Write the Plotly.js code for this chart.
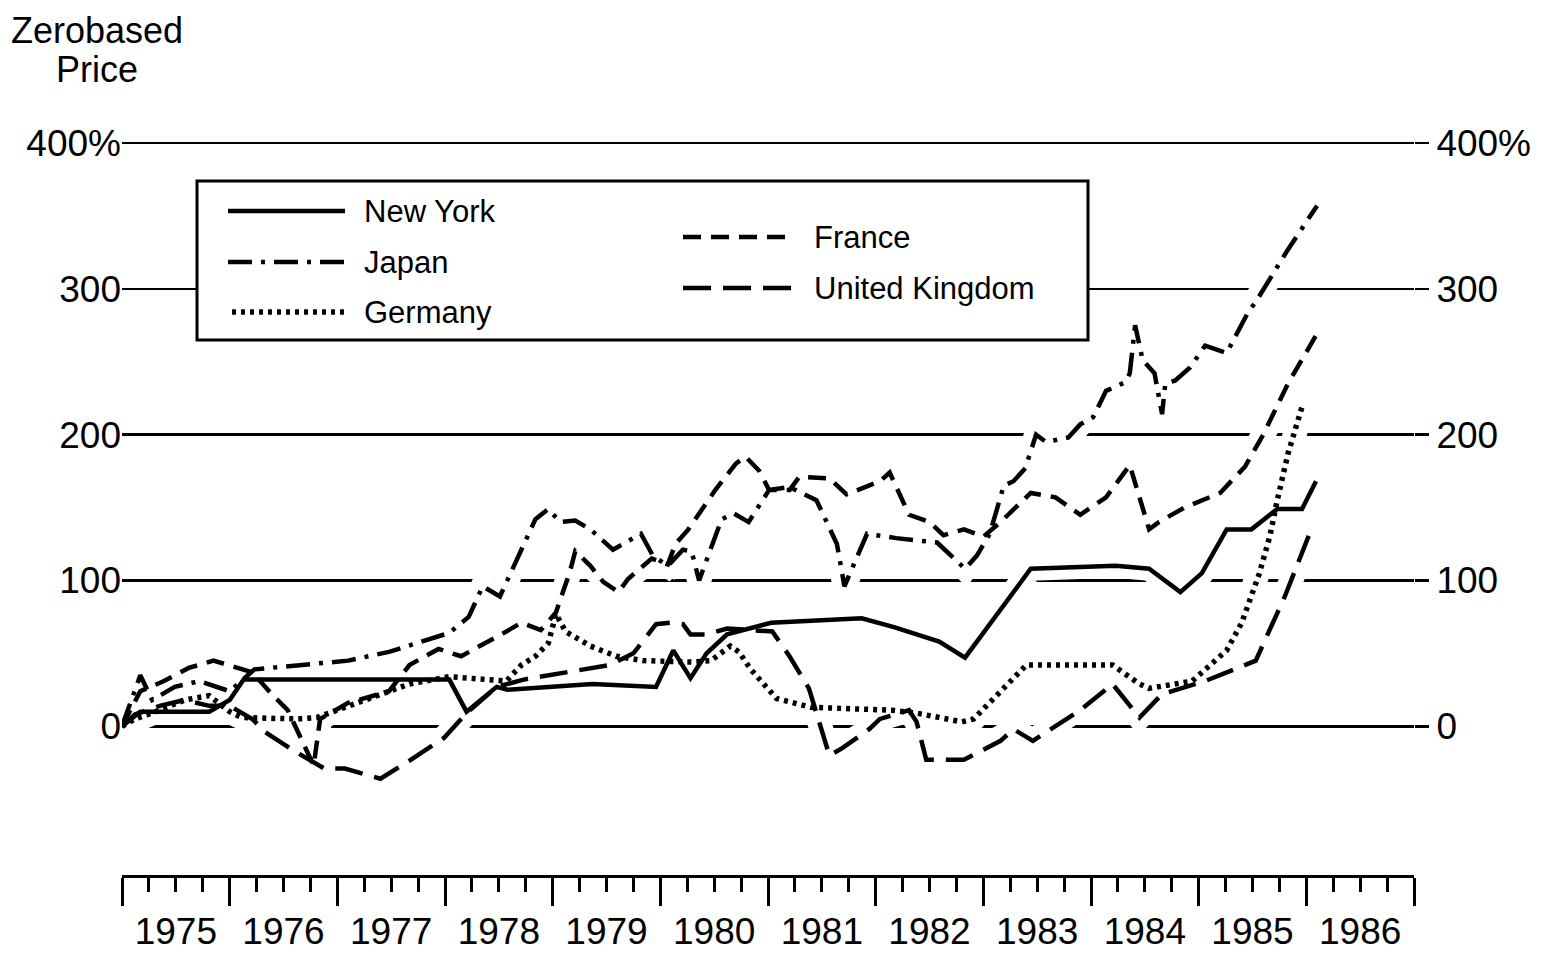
<!DOCTYPE html>
<html><head><meta charset="utf-8">
<script src="https://cdn.plot.ly/plotly-3.0.1.min.js"></script>
<style>html,body{margin:0;padding:0;background:#fff}#chart{width:1544px;height:956px}</style>
</head><body><div id="chart"></div>
<script>
const seriesNames = ['New York', 'Japan', 'Germany', 'France', 'United Kingdom'];

const nyYear = [1975.00,1975.17,1975.49,1975.81,1976.00,1976.13,1978.04,1978.20,1978.48,1978.58,1979.37,1979.96,1980.12,1980.28,1980.43,1980.62,1981.03,1981.87,1982.17,1982.59,1982.83,1983.44,1984.23,1984.54,1984.83,1985.03,1985.26,1985.49,1985.73,1985.96,1986.09];
const nyValue = [0,10,10,10,18,32,32,10,27,25,29,27,52,33,50,63,71,74,68,58,47,108,110,108,92,105,135,135,149,149,168];

const japanYear = [1975.00,1975.17,1975.28,1975.49,1975.72,1976.00,1976.23,1976.73,1977.10,1977.48,
  1977.80,1978.04,1978.22,1978.35,1978.51,1978.71,1978.84,1978.96,1979.07,1979.21,
  1979.35,1979.56,1979.82,1979.93,1980.07,1980.21,1980.29,1980.36,1980.51,1980.57,
  1980.68,1980.82,1981.01,1981.20,1981.45,1981.64,1981.71,1981.92,1982.19,1982.57,
  1982.83,1982.94,1983.06,1983.19,1983.28,1983.39,1983.49,1983.58,1983.79,1983.90,
  1984.02,1984.14,1984.32,1984.36,1984.41,1984.48,1984.59,1984.66,1984.69,1984.78,
  1984.92,1985.06,1985.26,1985.46,1985.53,1985.83,1986.10];
const japanValue = [0,35,18,27,31,24,39,42,45,51,
  58,64,75,96,89,121,142,149,140,141,
  135,121,132,117,110,121,120,100,130,142,
  146,140,162,164,155,125,96,132,129,126,
  108,117,132,165,168,177,200,195,198,207,
  212,230,236,242,275,251,242,214,235,237,
  246,261,256,284,291,327,357];

const germanyYear = [1975.00,1975.12,1975.35,1975.58,1975.81,1976.00,1976.11,1976.63,1976.81,1977.10,
  1977.67,1978.04,1978.57,1978.71,1978.84,1978.96,1979.03,1979.12,1979.35,1979.59,
  1979.84,1980.31,1980.47,1980.65,1980.73,1980.84,1981.08,1981.40,1982.15,1982.38,
  1982.80,1982.91,1983.40,1984.20,1984.45,1984.54,1984.94,1985.26,1985.40,1985.56,
  1985.66,1985.73,1985.83,1985.96];
const germanyValue = [0,5,11,18,21,10,6,5,6,14,
  29,34,31,42,48,57,77,65,55,48,
  45,44,45,55,51,39,19,13,11,9,
  3,5,42,42,29,26,31,52,71,104,
  130,155,187,219];

const franceYear = [1975.00,1975.17,1975.39,1975.62,1975.85,1976.10,1976.21,1976.39,1976.54,1976.78,
  1976.84,1977.10,1977.48,1977.67,1977.94,1978.15,1978.33,1978.57,1978.71,1978.89,
  1979.03,1979.16,1979.21,1979.35,1979.47,1979.61,1979.70,1979.92,1980.07,1980.14,
  1980.26,1980.51,1980.70,1980.79,1980.92,1981.01,1981.20,1981.29,1981.57,1981.73,
  1982.04,1982.13,1982.31,1982.50,1982.63,1982.82,1983.00,1983.16,1983.44,1983.67,
  1983.90,1984.14,1984.36,1984.54,1984.63,1984.87,1985.20,1985.43,1985.60,1985.83,
  1986.09];
const franceValue = [0,24,31,40,45,40,37,22,11,-27,
  5,16,24,42,53,48,55,65,71,66,
  78,106,120,110,99,92,101,115,111,125,
  135,162,180,185,175,162,162,171,170,159,
  168,174,145,140,131,135,130,140,160,157,
  145,157,179,135,140,150,160,178,200,235,
  268];

const ukYear = [1975.00,1975.12,1975.35,1975.58,1975.81,1976.00,1976.21,1976.33,1976.60,1976.88,
  1977.07,1977.40,1977.64,1977.99,1978.20,1978.48,1978.73,1979.53,1979.75,1979.96,
  1980.10,1980.21,1980.28,1980.43,1980.62,1980.96,1981.04,1981.20,1981.38,1981.57,
  1981.69,1981.94,1982.04,1982.31,1982.38,1982.47,1982.82,1983.16,1983.28,1983.46,
  1983.90,1984.20,1984.45,1984.66,1985.06,1985.53,1985.80,1986.03];
const ukValue = [0,8,14,18,14,14,5,-4,-17,-29,
  -29,-36,-25,-8,9,27,32,42,50,70,
  71,70,63,63,67,65,65,48,26,-20,
  -15,-2,5,11,3,-23,-23,-10,-2,-10,
  11,29,6,22,31,45,89,132];

const yTickValues = [0, 100, 200, 300, 400];
const yTickLabels = ['0', '100', '200', '300', '400%'];
const yearTicks = [1975,1976,1977,1978,1979,1980,1981,1982,1983,1984,1985,1986,1987];
const yearLabels = ['1975','1976','1977','1978','1979','1980','1981','1982','1983','1984','1985','1986'];
const yTitleLines = ['Zerobased', 'Price'];

const INK = '#000000';
const FONT = 'Liberation Sans, Arial, Helvetica, sans-serif';
const xRange = [1975, 1987];
const yRange = [-102, 402];

const seriesX = [nyYear, japanYear, germanyYear, franceYear, ukYear];
const seriesY = [nyValue, japanValue, germanyValue, franceValue, ukValue];
const seriesStyle = [
  {dash: 'solid', width: 4.5},
  {dash: '24px,9px,4px,9px', width: 4.5},
  {dash: '4px,5px', width: 5.5},
  {dash: '18px,10px', width: 4.5},
  {dash: '28px,12px', width: 4.5}
];

const traces = [];
// white halos under every line (break the grid lines where the series pass, as in the print)
seriesX.forEach((xv, i) => {
  traces.push({x: xv, y: seriesY[i], mode: 'lines', line: {color: '#ffffff', width: 24},
    hoverinfo: 'skip', showlegend: false});
});
seriesX.forEach((xv, i) => {
  traces.push({x: xv, y: seriesY[i], name: seriesNames[i], mode: 'lines',
    line: {color: INK, width: seriesStyle[i].width, dash: seriesStyle[i].dash},
    showlegend: false});
});
// carrier for the overlay axes (year labels / right-hand scale)
traces.push({x: nyYear, y: nyValue, xaxis: 'x2', yaxis: 'y2', mode: 'lines', opacity: 0,
  hoverinfo: 'skip', showlegend: false});

// layout geometry helpers (pixels -> paper)
const L = 122, R = 1414, T = 140, B = 875;
const px = p => (p - L) / (R - L);
const py = p => (B - p) / (B - T);

const shapes = [
  {type: 'rect', xref: 'paper', yref: 'paper', x0: px(197), x1: px(1088), y0: py(340), y1: py(181),
   fillcolor: '#ffffff', line: {color: INK, width: 3}, layer: 'above'}
];
const legendPos = [
  {x0: 228, x1: 345, y: 211, tx: 362},
  {x0: 228, x1: 345, y: 262, tx: 362},
  {x0: 232, x1: 345, y: 312, tx: 362},
  {x0: 683, x1: 795, y: 237, tx: 812},
  {x0: 683, x1: 795, y: 288, tx: 812}
];
const annotations = [];
legendPos.forEach((p, i) => {
  shapes.push({type: 'line', xref: 'paper', yref: 'paper', x0: px(p.x0), x1: px(p.x1), y0: py(p.y), y1: py(p.y),
    line: {color: INK, width: seriesStyle[i].width, dash: seriesStyle[i].dash}, layer: 'above'});
  annotations.push({text: seriesNames[i], xref: 'paper', yref: 'paper', x: px(p.tx), y: py(p.y),
    xanchor: 'left', yanchor: 'middle', showarrow: false, font: {family: FONT, size: 31, color: INK}});
});
annotations.push({text: yTitleLines[0], xref: 'paper', yref: 'paper', x: px(97), y: py(8),
  xanchor: 'center', yanchor: 'top', showarrow: false, font: {family: FONT, size: 36, color: INK}});
annotations.push({text: yTitleLines[1], xref: 'paper', yref: 'paper', x: px(97), y: py(47),
  xanchor: 'center', yanchor: 'top', showarrow: false, font: {family: FONT, size: 36, color: INK}});

const layout = {
  width: 1544, height: 956,
  margin: {l: L, r: 1544 - R, t: T, b: 956 - B, pad: 0},
  paper_bgcolor: '#ffffff', plot_bgcolor: '#ffffff',
  font: {family: FONT, color: INK},
  showlegend: false,
  xaxis: {range: xRange, tickmode: 'array', tickvals: yearTicks, ticks: 'outside', ticklen: 28,
    tickwidth: 3, tickcolor: INK, showticklabels: false, showline: true, linewidth: 3, linecolor: INK,
    showgrid: false, zeroline: false, fixedrange: true,
    minor: {tickmode: 'linear', tick0: 1975, dtick: 0.25, ticks: 'outside', ticklen: 14, tickwidth: 3,
      tickcolor: INK, showgrid: false}},
  xaxis2: {overlaying: 'x', anchor: 'y', side: 'bottom', range: xRange, tickmode: 'array',
    tickvals: yearLabels.map((t, i) => yearTicks[i] + 0.5), ticktext: yearLabels,
    ticks: 'outside', ticklen: 24, tickcolor: 'rgba(0,0,0,0)', showline: false, showgrid: false,
    zeroline: false, tickfont: {family: FONT, size: 37, color: INK}},
  yaxis: {range: yRange, tickmode: 'array', tickvals: yTickValues, ticktext: yTickLabels, ticks: '',
    showgrid: true, gridcolor: INK, gridwidth: 2.5, zeroline: false, showline: false,
    tickfont: {family: FONT, size: 37, color: INK}},
  yaxis2: {overlaying: 'y', anchor: 'x', side: 'right', range: yRange, tickmode: 'array',
    tickvals: yTickValues, ticktext: yTickLabels, ticks: 'outside', ticklen: 14, tickwidth: 2.5,
    tickcolor: INK, showgrid: false, zeroline: false, showline: false,
    tickfont: {family: FONT, size: 37, color: INK}},
  shapes: shapes,
  annotations: annotations
};

Plotly.newPlot('chart', traces, layout, {staticPlot: true, displayModeBar: false});
</script>
</body></html>
